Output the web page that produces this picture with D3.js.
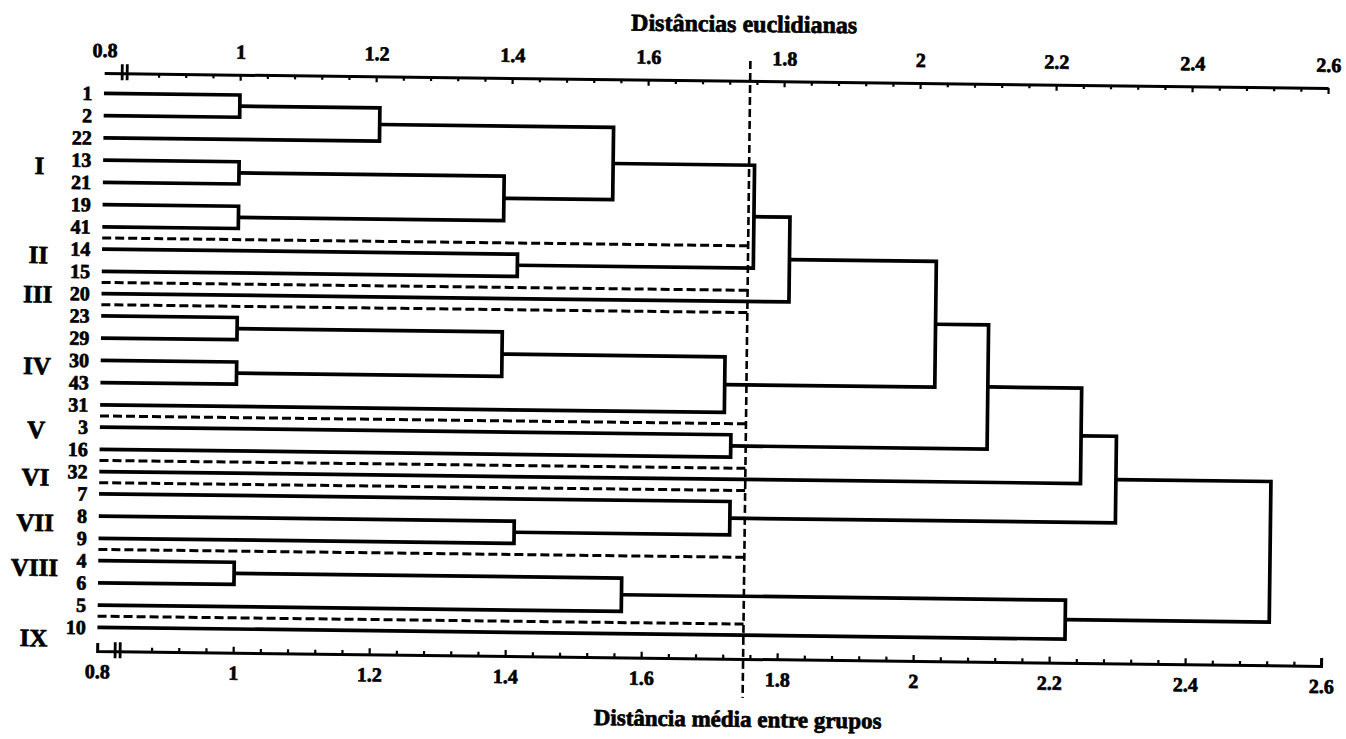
<!DOCTYPE html>
<html>
<head>
<meta charset="utf-8">
<script src="https://cdn.jsdelivr.net/npm/d3@7"></script>
<style>
  body { margin: 0; background: #fff; }
  text { font-family: "Liberation Serif", "Times New Roman", serif; font-weight: bold; fill: #000; stroke: #000; stroke-width: 0.7; }
</style>
</head>
<body>
<svg id="chart" width="1346" height="739"></svg>
<script>
// leaves, top to bottom
var leaves = ["1", "2", "22", "13", "21", "19", "41", "14", "15", "20", "23", "29", "30", "43", "31",
              "3", "16", "32", "7", "8", "9", "4", "6", "5", "10"];

// merges: [left, right, distance] -> new node "c1", "c2", ...
var merges = [
    ["1", "2", 1.00],      // c1
    ["c1", "22", 1.206],   // c2
    ["13", "21", 1.00],    // c3
    ["19", "41", 1.00],    // c4
    ["c3", "c4", 1.39],    // c5
    ["c2", "c5", 1.55],    // c6
    ["14", "15", 1.411],   // c7
    ["c6", "c7", 1.758],   // c8
    ["c8", "20", 1.811],   // c9
    ["23", "29", 1.00],    // c10
    ["30", "43", 1.00],    // c11
    ["c10", "c11", 1.39],  // c12
    ["c12", "31", 1.718],  // c13
    ["c9", "c13", 2.027],  // c14
    ["3", "16", 1.728],    // c15
    ["c14", "c15", 2.105], // c16
    ["c16", "32", 2.243],  // c17
    ["8", "9", 1.411],     // c18
    ["7", "c18", 1.728],   // c19
    ["c17", "c19", 2.295], // c20
    ["4", "6", 1.00],      // c21
    ["c21", "5", 1.57],    // c22
    ["c22", "10", 2.223],  // c23
    ["c20", "c23", 2.523]  // c24
];

// groups cut at the dashed line
var groupNames = ["I", "II", "III", "IV", "V", "VI", "VII", "VIII", "IX"];
var groupFirst = ["1", "14", "20", "23", "3", "32", "7", "4", "10"];
var groupLast  = ["41", "15", "20", "31", "16", "32", "9", "5", "10"];
var cutoff = 1.75;

var majorTicks = [0.8, 1.0, 1.2, 1.4, 1.6, 1.8, 2.0, 2.2, 2.4, 2.6];
var tickLabels = ["0.8", "1", "1.2", "1.4", "1.6", "1.8", "2", "2.2", "2.4", "2.6"];

var svg = d3.select("#chart");
svg.append("rect").attr("width", 1346).attr("height", 739).attr("fill", "#fff");

// the scanned figure is a little tilted
var g = svg.append("g").attr("transform", "rotate(0.7,100,360)");

var x = d3.scaleLinear().domain([0.8, 2.6]).range([100.7, 1324.7]);
var y = d3.scalePoint().domain(leaves).range([93.3, 627.3]);

var topY = 73, bottomY = 651;

// Minor ticks every 0.04
var minorTicks = d3.range(22, 66).map(function (i) { return +(i * 0.04).toFixed(2); })
    .filter(function (v) { return Math.abs(v * 5 - Math.round(v * 5)) > 1e-6; });

// Top axis
var topAxis = d3.axisTop(x).tickValues(majorTicks)
    .tickFormat(function (d, i) { return tickLabels[i]; })
    .tickSizeInner(-6).tickSizeOuter(0).tickPadding(16);
var gt = g.append("g").attr("transform", "translate(0," + topY + ")").call(topAxis);
gt.append("g").call(d3.axisTop(x).tickValues(minorTicks).tickFormat("").tickSizeInner(-4).tickSizeOuter(0))
    .select(".domain").remove();

// Bottom axis
var bottomAxis = d3.axisBottom(x).tickValues(majorTicks)
    .tickFormat(function (d, i) { return tickLabels[i]; })
    .tickSizeInner(-6).tickSizeOuter(-8).tickPadding(13);
var gb = g.append("g").attr("transform", "translate(0," + bottomY + ")").call(bottomAxis);
gb.append("g").call(d3.axisBottom(x).tickValues(minorTicks).tickFormat("").tickSizeInner(-4).tickSizeOuter(0))
    .select(".domain").remove();

[gt, gb].forEach(function (ax) {
    ax.selectAll(".domain").attr("stroke", "#000").attr("stroke-width", 3);
    ax.selectAll(".tick line").attr("stroke", "#000").attr("stroke-width", 2.2);
    ax.selectAll(".tick text").attr("font-size", 20).attr("font-family", null);
});
gt.select(".tick line").remove();
gb.select(".tick line").remove();

// break marks near 0.8
[topY, bottomY].forEach(function (ay) {
    [18, 23].forEach(function (off) {
        g.append("line")
            .attr("x1", x(0.8) + off).attr("x2", x(0.8) + off)
            .attr("y1", ay - 9).attr("y2", ay + 7)
            .attr("stroke", "#000").attr("stroke-width", 2.8);
    });
});

// build node positions
var nodes = {};
leaves.forEach(function (l) { nodes[l] = { h: 0.8, y: y(l) }; });

var links = [];
merges.forEach(function (m, i) {
    var a = nodes[m[0]], b = nodes[m[1]];
    nodes["c" + (i + 1)] = { h: m[2], y: (a.y + b.y) / 2 };
    links.push({ a: a, b: b, h: m[2] });
});

// dashed separators between groups
var separators = [];
for (var i = 0; i < groupLast.length - 1; i++) {
    separators.push((y(groupLast[i]) + y(groupFirst[i + 1])) / 2);
}
g.selectAll(".sep").data(separators).enter().append("line")
    .attr("class", "sep")
    .attr("x1", x(0.8)).attr("x2", x(cutoff))
    .attr("y1", function (d) { return d; }).attr("y2", function (d) { return d; })
    .attr("stroke", "#000").attr("stroke-width", 3).attr("stroke-dasharray", "9,4");

// dendrogram links
g.selectAll(".link").data(links).enter().append("path")
    .attr("class", "link")
    .attr("d", function (d) {
        return "M" + x(d.a.h) + "," + d.a.y + "H" + x(d.h) + "V" + d.b.y + "H" + x(d.b.h);
    })
    .attr("fill", "none").attr("stroke", "#000").attr("stroke-width", 3.7)
    .attr("stroke-linejoin", "miter");

// cutoff line
g.append("line")
    .attr("x1", x(cutoff)).attr("x2", x(cutoff))
    .attr("y1", 53).attr("y2", 690)
    .attr("stroke", "#000").attr("stroke-width", 2.6).attr("stroke-dasharray", "8,4");

// leaf labels
g.selectAll(".leaf").data(leaves).enter().append("text")
    .attr("class", "leaf")
    .attr("x", 89).attr("y", function (d) { return y(d); })
    .attr("dy", "0.35em").attr("text-anchor", "end")
    .attr("font-size", 20)
    .text(function (d) { return d; });

// group labels (small nudges to sit like the original typesetting)
var nudge = [6, -5, 1, 6, -8, 6, 7, -15, 11];
g.selectAll(".grp").data(groupNames).enter().append("text")
    .attr("class", "grp")
    .attr("x", 37)
    .attr("y", function (d, i) { return (y(groupFirst[i]) + y(groupLast[i])) / 2 + nudge[i]; })
    .attr("dy", "0.35em").attr("text-anchor", "middle")
    .attr("font-size", 25)
    .text(function (d) { return d; });

// titles
g.append("text").attr("x", 740).attr("y", 24).attr("text-anchor", "middle")
    .attr("font-size", 24).text("Distâncias euclidianas");
g.append("text").attr("x", 742).attr("y", 719).attr("text-anchor", "middle")
    .attr("font-size", 23).text("Distância média entre grupos");
</script>
</body>
</html>
